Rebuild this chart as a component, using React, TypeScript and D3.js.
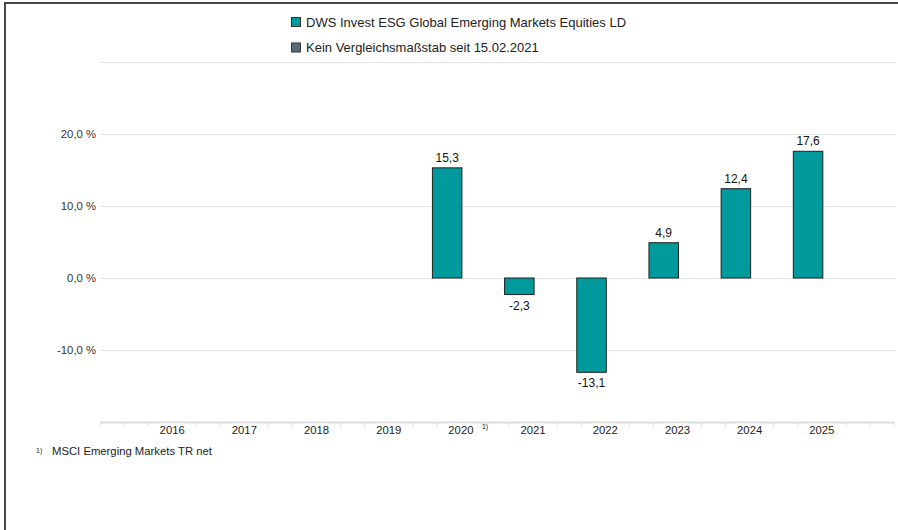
import { useEffect, useRef } from "react";
import * as d3 from "d3";

const years = ["2016", "2017", "2018", "2019", "2020", "2021", "2022", "2023", "2024", "2025"];
const fundValues: (number | null)[] = [null, null, null, null, 15.3, -2.3, -13.1, 4.9, 12.4, 17.6];
const footnoteYears = ["2020"];
const yLabelTicks = [20, 10, 0, -10];
const yGridTicks = [30, 20, 10, 0, -10];
const legendItems = [
  { label: "DWS Invest ESG Global Emerging Markets Equities LD", color: "#009a9c" },
  { label: "Kein Vergleichsmaßstab seit 15.02.2021", color: "#5b6b74" },
];
const footnoteText = "MSCI Emerging Markets TR net";

const W = 898;
const H = 530;
const FONT = "'Liberation Sans', Arial, Helvetica, sans-serif";

const fmt = (v: number) => d3.format(".1f")(v).replace(".", ",").replace("\u2212", "-");

export default function App() {
  const svgRef = useRef<SVGSVGElement | null>(null);

  useEffect(() => {
    if (!svgRef.current) return;
    const svg = d3.select(svgRef.current);
    svg.selectAll("*").remove();

    const x = d3.scaleLinear().domain([0, years.length + 1]).range([100, 894]);
    const y = d3.scaleLinear().domain([-20, 30]).range([422, 62]);

    // frame
    svg.append("rect").attr("width", W).attr("height", H).attr("fill", "#fff");
    svg.append("line").attr("x1", 5).attr("x2", W).attr("y1", 3).attr("y2", 3)
      .attr("stroke", "#4a4a4a").attr("stroke-width", 2);
    svg.append("line").attr("x1", 5).attr("x2", 5).attr("y1", 2).attr("y2", H)
      .attr("stroke", "#4a4a4a").attr("stroke-width", 2);

    // legend
    const lg = svg.append("g");
    legendItems.forEach((d, i) => {
      const ly = 22 + i * 25.5;
      lg.append("rect").attr("x", 291.5).attr("y", ly - 4.5).attr("width", 9).attr("height", 9)
        .attr("fill", d.color).attr("stroke", "#333").attr("stroke-width", 1);
      lg.append("text").attr("x", 306).attr("y", ly + 4.8).text(d.label)
        .attr("font-family", FONT).attr("font-size", 13).attr("fill", "#222");
    });

    // grid
    svg.append("g").selectAll("line").data(yGridTicks).join("line")
      .attr("x1", 100).attr("x2", 896)
      .attr("y1", (d) => Math.round(y(d)) + 0.5).attr("y2", (d) => Math.round(y(d)) + 0.5)
      .attr("stroke", "#e3e3e3").attr("stroke-width", 1);

    svg.append("g").selectAll("text").data(yLabelTicks).join("text")
      .attr("x", 96).attr("y", (d) => y(d) + 4)
      .attr("text-anchor", "end")
      .attr("font-family", FONT).attr("font-size", 11.3).attr("fill", "#333")
      .text((d) => fmt(d) + " %");

    // x axis
    const axisY = y(-20) + 0.5;
    svg.append("line").attr("x1", 100).attr("x2", 894).attr("y1", axisY).attr("y2", axisY)
      .attr("stroke", "#dcdcdc").attr("stroke-width", 2);
    const minorTicks = d3.range(0, (years.length + 1) * 3 + 1).map((k) => k / 3);
    svg.append("g").selectAll("line").data(minorTicks).join("line")
      .attr("x1", (d) => x(d)).attr("x2", (d) => x(d))
      .attr("y1", axisY).attr("y2", axisY + 4)
      .attr("stroke", "#dcdcdc").attr("stroke-width", 1);

    const xl = svg.append("g");
    years.forEach((yr, i) => {
      const cx = x(i + 1);
      xl.append("rect").attr("x", cx - 14).attr("y", axisY + 1).attr("width", 28).attr("height", 6).attr("fill", "#fff");
      xl.append("text").attr("x", cx).attr("y", 434)
        .attr("text-anchor", "middle")
        .attr("font-family", FONT).attr("font-size", 11.3).attr("fill", "#222")
        .text(yr);
      if (footnoteYears.includes(yr)) {
        xl.append("text").attr("x", cx + 21).attr("y", 429)
          .attr("font-family", FONT).attr("font-size", 7).attr("fill", "#222").text("1)");
      }
    });

    // bars
    const barW = 29.5;
    const bars = years.map((yr, i) => ({ yr, i, v: fundValues[i] })).filter((d) => d.v !== null) as {
      yr: string; i: number; v: number;
    }[];
    svg.append("g").selectAll("rect").data(bars).join("rect")
      .attr("x", (d) => x(d.i + 1) - barW + 1)
      .attr("y", (d) => y(Math.max(0, d.v)))
      .attr("width", barW)
      .attr("height", (d) => Math.abs(y(d.v) - y(0)))
      .attr("fill", "#009a9c")
      .attr("stroke", "#1f1f1f")
      .attr("stroke-width", 1);

    svg.append("g").selectAll("text").data(bars).join("text")
      .attr("x", (d) => x(d.i + 1) - barW / 2 + 1)
      .attr("y", (d) => (d.v >= 0 ? y(d.v) - 6 : y(d.v) + 15))
      .attr("text-anchor", "middle")
      .attr("font-family", FONT).attr("font-size", 12).attr("fill", "#111")
      .text((d) => fmt(d.v));

    // footnote
    svg.append("text").attr("x", 36).attr("y", 453)
      .attr("font-family", FONT).attr("font-size", 7).attr("fill", "#222").text("1)");
    svg.append("text").attr("x", 52).attr("y", 455)
      .attr("font-family", FONT).attr("font-size", 11.3).attr("fill", "#222").text(footnoteText);
  }, []);

  return (
    <svg
      ref={svgRef}
      width={W}
      height={H}
      style={{ position: "absolute", left: 0, top: 0, display: "block" }}
    />
  );
}
